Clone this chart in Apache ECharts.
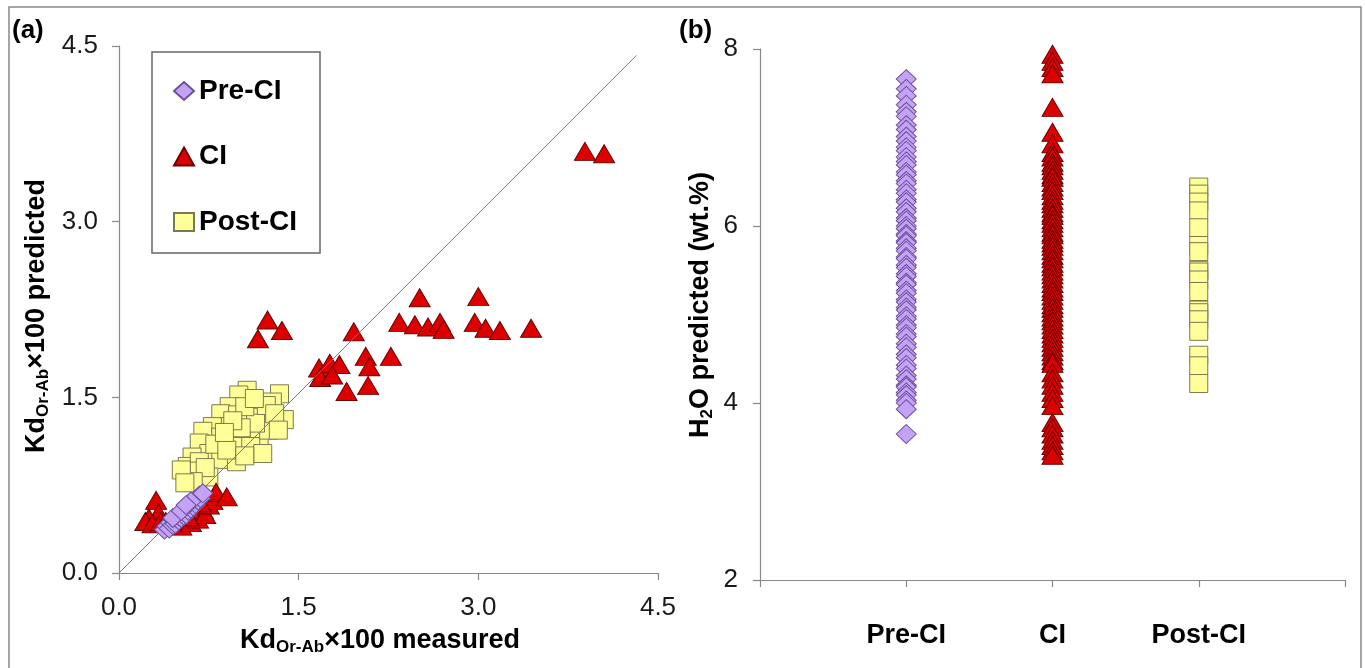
<!DOCTYPE html>
<html>
<head>
<meta charset="utf-8">
<script src="https://cdn.jsdelivr.net/npm/echarts@6/dist/echarts.min.js"></script>
<style>html,body{margin:0;padding:0;background:#fff;}#c{width:1365px;height:668px;}</style>
</head>
<body>
<div id="c"></div>
<script>
// ---------- DATA ----------
const seriesNames = ['Pre-CI', 'CI', 'Post-CI'];
const categories = ['Pre-CI', 'CI', 'Post-CI'];
const axisATicks = [0.0, 1.5, 3.0, 4.5];
const axisBTicks = [2, 4, 6, 8];

// Panel (a): [measured, predicted]
const preA = [[0.38,0.37],[0.40,0.40],[0.42,0.38],[0.43,0.43],[0.45,0.41],[0.46,0.45],[0.47,0.42],[0.48,0.47],
  [0.50,0.45],[0.50,0.49],[0.52,0.47],[0.53,0.51],[0.54,0.49],[0.55,0.53],[0.56,0.50],[0.57,0.55],[0.58,0.53],
  [0.59,0.57],[0.60,0.55],[0.61,0.59],[0.62,0.57],[0.63,0.61],[0.64,0.59],[0.65,0.63],[0.66,0.62],[0.67,0.66],
  [0.68,0.64],[0.70,0.68],[0.45,0.47],[0.52,0.53],[0.60,0.61],[0.56,0.58]];
const ciA = [[3.89,3.60],[4.05,3.58],[2.51,2.35],[3.00,2.36],[2.34,2.14],[2.47,2.12],[2.58,2.10],[2.68,2.14],
  [2.71,2.08],[2.97,2.14],[3.06,2.09],[3.18,2.07],[3.44,2.09],[1.24,2.16],[1.16,2.00],[1.36,2.07],[1.96,2.06],
  [1.67,1.75],[1.76,1.79],[1.84,1.78],[2.06,1.85],[2.09,1.76],[2.27,1.85],[1.68,1.67],[1.78,1.69],[1.90,1.55],
  [2.08,1.60],
  [0.31,0.62],[0.25,0.47],[0.33,0.51],[0.22,0.44],[0.28,0.42],[0.35,0.44],[0.39,0.44],[0.47,0.42],[0.52,0.40],
  [0.56,0.45],[0.60,0.43],[0.64,0.50],[0.66,0.46],[0.70,0.54],[0.72,0.50],[0.75,0.58],[0.78,0.62],[0.81,0.69],
  [0.90,0.65],[0.68,0.60],[0.58,0.48]];
const postA = [[1.07,1.56],[1.00,1.52],[1.34,1.53],[1.28,1.46],[0.92,1.42],[0.85,1.36],[0.99,1.35],[1.38,1.31],
  [1.17,1.33],[0.78,1.25],[0.70,1.21],[0.85,1.16],[1.07,1.18],[1.17,1.14],[0.67,1.11],[0.75,1.02],[0.98,1.08],
  [0.61,0.99],[0.57,0.91],[0.67,0.95],[0.85,0.97],[0.98,0.95],[0.57,0.85],[0.67,0.87],[0.75,0.82],[1.10,1.08],
  [1.25,1.22],[1.14,1.28],[0.93,1.25],[1.05,1.42],[1.23,1.43],[0.80,1.10],[0.90,1.05],[1.02,1.24],[1.20,1.02],
  [0.72,0.90],[0.62,0.78],[1.13,1.49],[0.95,1.30],[0.88,1.20],[1.30,1.36],[1.05,1.00],[1.33,1.22],[0.52,0.88],
  [0.55,0.77]];
const oneToOne = [[0, 0], [4.32, 4.42]];

// Panel (b): H2O predicted (wt.%)
const preB = [7.66,7.55,7.47,7.37,7.29,7.24,7.14,7.09,7.01,6.96,6.89,6.85,6.78,6.73,6.69,6.61,6.58,6.51,6.48,
  6.41,6.37,6.30,6.27,6.20,6.16,6.09,6.06,6.00,5.97,5.91,5.89,5.83,5.81,5.75,5.72,5.65,5.63,5.56,5.53,5.46,
  5.43,5.36,5.34,5.27,5.24,5.17,5.14,5.08,5.05,4.98,4.95,4.88,4.85,4.78,4.75,4.67,4.63,4.55,4.51,4.43,4.39,
  4.31,4.27,4.20,4.18,4.12,4.09,4.03,4.00,3.93,3.65];
const ciB = [7.94,7.86,7.79,7.72,7.34,7.06,6.93,6.83,6.78,6.72,6.68,6.63,6.58,6.55,6.49,6.44,6.40,6.34,6.29,
  6.25,6.20,6.15,6.12,6.07,6.03,5.98,5.93,5.90,5.85,5.81,5.77,5.72,5.67,5.63,5.58,5.54,5.49,5.45,5.40,5.35,
  5.30,5.26,5.21,5.16,5.11,5.07,5.02,4.97,4.93,4.88,4.83,4.78,4.73,4.68,4.63,4.58,4.53,4.48,4.45,4.34,4.27,
  4.20,4.12,4.05,3.97,3.78,3.72,3.65,3.58,3.52,3.46,3.41];
const postB = [6.44,6.36,6.27,6.17,5.98,5.78,5.71,5.50,5.48,5.39,5.26,5.05,5.02,4.94,4.81,4.54,4.42,4.22];

// ---------- STYLE ----------
const FONT = '"Liberation Sans", Arial, Helvetica, sans-serif';
const styles = {
  'Pre-CI':  {symbol: 'diamond',  size: [20, 19], color: '#c4a3f6', border: '#6a529c'},
  'CI':      {symbol: 'triangle', size: [21, 18], color: '#dd0000', border: '#6b0000'},
  'Post-CI': {symbol: 'rect',     size: [18, 18], color: '#ffff99', border: '#7a7a50'}
};
function scatter(name, data, idx, z) {
  const s = styles[name];
  return {
    name, type: 'scatter', xAxisIndex: idx, yAxisIndex: idx, data, z,
    symbol: s.symbol, symbolSize: s.size,
    itemStyle: {color: s.color, borderColor: s.border, borderWidth: 1, opacity: 1},
    emphasis: {disabled: true}
  };
}
const axisLineStyle = {lineStyle: {color: '#888', width: 1.2}};
const tickStyle = {show: true, length: 7, lineStyle: {color: '#888', width: 1.2}};
const labelStyle = {color: '#1a1a1a', fontSize: 26, fontFamily: FONT};

const titleRich = {
  b: {fontSize: 27, fontWeight: 'bold', fontFamily: FONT, color: '#000', lineHeight: 30},
  s: {fontSize: 17, fontWeight: 'bold', fontFamily: FONT, color: '#000', lineHeight: 12, verticalAlign: 'bottom'}
};
function title(x, y, text, rot) {
  return {type: 'text', x, y, rotation: rot || 0, z: 10,
    style: {text, rich: titleRich, align: 'center', verticalAlign: 'middle'}};
}

const option = {
  animation: false,
  backgroundColor: '#fff',
  grid: [
    {left: 119, top: 46, width: 539, height: 527},
    {left: 760, top: 49, width: 585, height: 531}
  ],
  xAxis: [
    {type: 'value', gridIndex: 0, min: 0, max: 4.5, interval: 1.5,
     axisLine: axisLineStyle, axisTick: tickStyle, splitLine: {show: false},
     axisLabel: Object.assign({margin: 22, formatter: v => axisATicks.includes(v) ? v.toFixed(1) : ''}, labelStyle)},
    {type: 'value', gridIndex: 1, min: 0, max: 4, interval: 1,
     axisLine: axisLineStyle, axisTick: tickStyle, splitLine: {show: false},
     axisLabel: {margin: 42, color: '#000', fontSize: 27, fontWeight: 'bold', fontFamily: FONT,
       formatter: v => categories[v - 1] || ''}}
  ],
  yAxis: [
    {type: 'value', gridIndex: 0, min: 0, max: 4.5, interval: 1.5,
     axisLine: Object.assign({show: true}, axisLineStyle), axisTick: tickStyle, splitLine: {show: false},
     axisLabel: Object.assign({margin: 21, formatter: v => axisATicks.includes(v) ? v.toFixed(1) : ''}, labelStyle)},
    {type: 'value', gridIndex: 1, min: 2, max: 8, interval: 2,
     axisLine: Object.assign({show: true}, axisLineStyle), axisTick: tickStyle, splitLine: {show: false},
     axisLabel: Object.assign({margin: 22, formatter: v => axisBTicks.includes(v) ? String(v) : ''}, labelStyle)}
  ],
  legend: {
    data: seriesNames, orient: 'vertical', left: 173, top: 76, padding: 0,
    itemGap: 35.5, itemWidth: 20, itemHeight: 18, selectedMode: false,
    textStyle: {fontSize: 28, fontWeight: 'bold', fontFamily: FONT, color: '#000', lineHeight: 30}
  },
  series: [
    scatter('Post-CI', postA, 0, 2),
    scatter('CI', ciA, 0, 3),
    {type: 'line', xAxisIndex: 0, yAxisIndex: 0, data: oneToOne, symbol: 'none', z: 4, silent: true,
     lineStyle: {color: '#777', width: 1}},
    scatter('Pre-CI', preA, 0, 5),
    scatter('Pre-CI', preB.map(v => [1, v]), 1, 5),
    scatter('CI', ciB.map(v => [2, v]), 1, 5),
    scatter('Post-CI', postB.map(v => [3, v]), 1, 5)
  ],
  graphic: [
    {type: 'rect', shape: {x: 9, y: 7, width: 1352, height: 680}, z: 0,
     style: {fill: 'none', stroke: '#888', lineWidth: 1.5}},
    {type: 'rect', shape: {x: 152, y: 52, width: 168, height: 201}, z: 1,
     style: {fill: '#fff', stroke: '#666', lineWidth: 1.5}},
    {type: 'text', x: 12, y: 31, z: 10,
     style: {text: '(a)', fontSize: 26, fontWeight: 'bold', fontFamily: FONT, fill: '#000', verticalAlign: 'middle'}},
    {type: 'text', x: 679, y: 31, z: 10,
     style: {text: '(b)', fontSize: 26, fontWeight: 'bold', fontFamily: FONT, fill: '#000', verticalAlign: 'middle'}},
    title(380, 641, '{b|Kd}{s|Or-Ab}{b|×100 measured}'),
    title(37, 316, '{b|Kd}{s|Or-Ab}{b|×100 predicted}', Math.PI / 2),
    title(701, 305, '{b|H}{s|2}{b|O predicted (wt.%)}', Math.PI / 2)
  ]
};
const chart = echarts.init(document.getElementById('c'), null, {renderer: 'canvas'});
chart.setOption(option);
</script>
</body>
</html>
